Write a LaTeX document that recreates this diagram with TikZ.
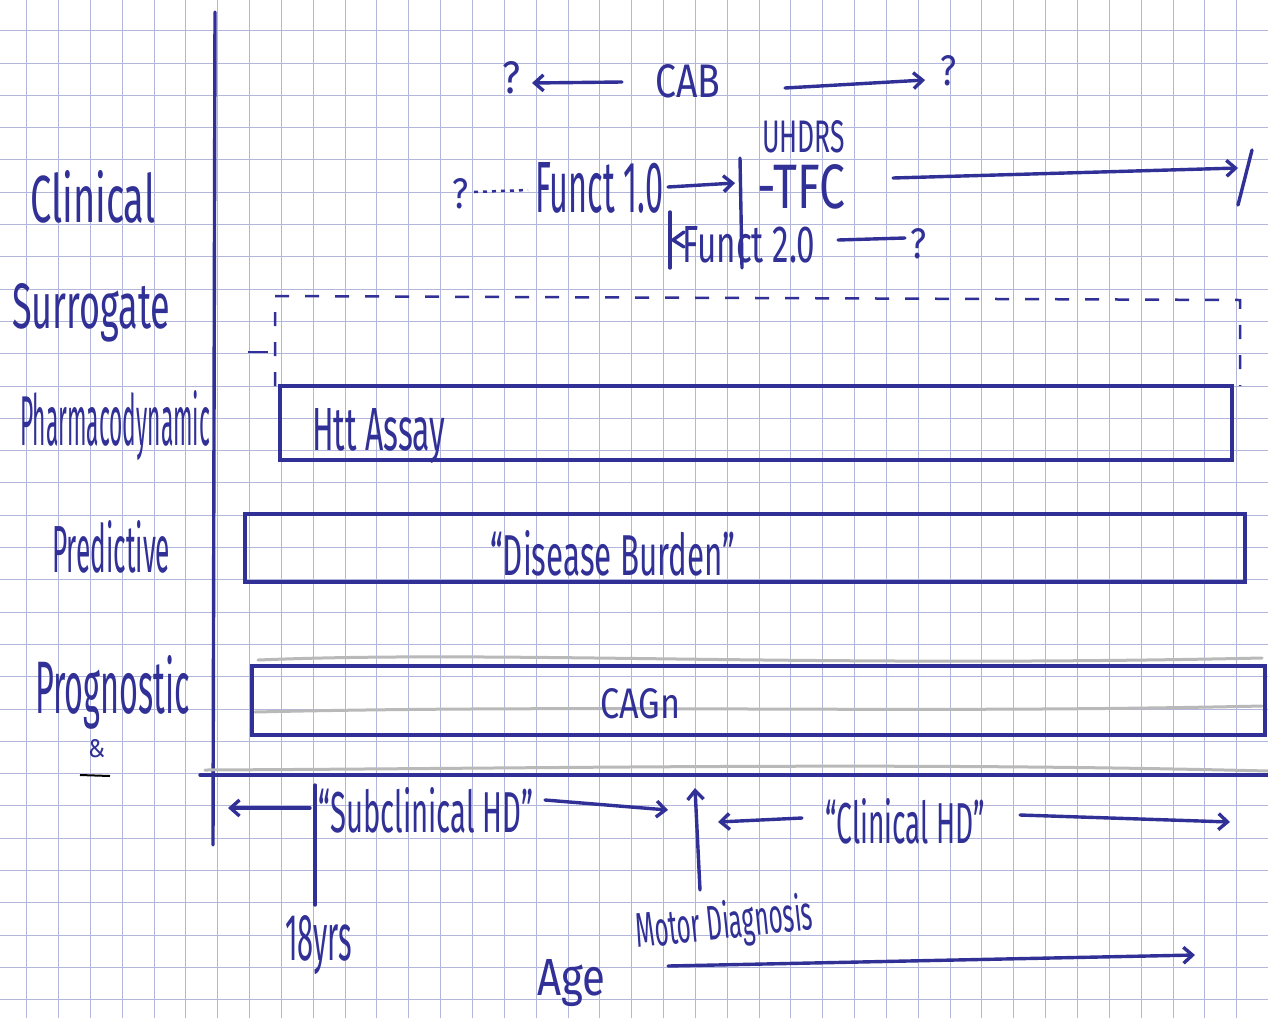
\documentclass[tikz,border=0pt]{standalone}
\usepackage{fontspec}
\usepackage{graphicx}
\newfontfamily\handfont{Fira Sans}
\usetikzlibrary{arrows.meta}
\definecolor{ink}{RGB}{48,48,150}
\definecolor{gridc}{RGB}{178,182,218}
\newcommand\hw[3]{\resizebox{#1pt}{#2pt}{\handfont #3}}
\begin{document}
\begin{tikzpicture}[x=1pt,y=-1pt,
  pen/.style={draw=ink, line width=3.4pt, line cap=round, line join=round},
  tip/.style={-{Straight Barb[length=9pt,width=16pt]}},
  lbl/.style={inner sep=0pt, anchor=base west, text=ink},
  box/.style={draw=ink, line width=3.4pt, inner sep=0pt},
  pencil/.style={draw=gray!55, line width=3pt, line cap=round}]
\useasboundingbox (0,0) rectangle (1268,1018);
\fill[white] (0,0) rectangle (1268,1018);
\foreach \i in {0,...,39} \draw[gridc, line width=0.9pt] ({26.7+31.84*\i},0) -- ({26.7+31.84*\i},1018);
\foreach \j in {0,...,31} \draw[gridc, line width=0.9pt] (0,{30.7+32.3*\j}) -- (1268,{30.7+32.3*\j});

% left labels
\node[lbl] (clinical) at (30,222) {\hw{125}{52}{Clinical}};
\node[lbl] (surrogate) at (12,328) {\hw{158}{45}{Surrogate}};
\node[lbl] (pharma) at (20,445) {\hw{190}{55}{Pharmacodynamic}};
\node[lbl] (predictive) at (52,572) {\hw{118}{52}{Predictive}};
\node[lbl] (prognostic) at (35,713) {\hw{155}{58}{Prognostic}};
\node[lbl] (amp) at (88,757) {\hw{17}{18}{\&}};
\draw[black, line width=2pt] (80,775) -- (110,776);

% axes
\coordinate (vtop) at (215,12);
\coordinate (vbot) at (213,845);
\draw[pen] (vtop) -- (vbot);
\coordinate (hl) at (200,775);
\coordinate (hr) at (1268,775);
\draw[pencil] (205,770) .. controls (600,768) and (900,762) .. (1268,771);
\draw[pen] (hl) -- (hr);

% top: CAB
\node[lbl] (q1) at (502,93) {\hw{18}{32}{?}};
\node[lbl] (cab) at (655,97) {\hw{65}{33}{CAB}};
\node[lbl] (q2) at (940,85) {\hw{16}{30}{?}};
\coordinate (cabL) at (622,82);
\coordinate (cabLe) at (532,83);
\coordinate (cabR) at (785,88);
\coordinate (cabRe) at (925,80);
\draw[pen,tip] (cabL) -- (cabLe);
\draw[pen,tip] (cabR) -- (cabRe);

% UHDRS / TFC / Funct
\node[lbl] (uhdrs) at (762,152) {\hw{83}{32}{UHDRS}};
\node[lbl] (q3) at (452,208) {\hw{16}{30}{?}};
\draw[ink, line width=2.5pt, dash pattern=on 4pt off 5pt] (474,192) -- (528,190);
\node[lbl] (f1) at (535,212) {\hw{128}{50}{Funct 1.0}};
\coordinate (f1a) at (668,187);
\coordinate (f1b) at (735,183);
\draw[pen,tip] (f1a) -- (f1b);
\coordinate (barT) at (740,158);
\coordinate (barB) at (742,268);
\draw[pen] (barT) -- (barB);
\node[lbl] (tfc) at (757,208) {\hw{88}{44}{-TFC}};
\coordinate (tfcA) at (893,178);
\coordinate (tfcB) at (1238,168);
\draw[pen,tip] (tfcA) -- (tfcB);
\draw[pen] (1252,150) -- (1238,205);

\coordinate (bar2T) at (670,212);
\coordinate (bar2B) at (670,268);
\draw[pen] (bar2T) -- (bar2B);
\draw[pen] (684,232) -- (673,240) -- (684,247);
\node[lbl] (f2) at (682,262) {\hw{133}{36}{Funct 2.0}};
\node[lbl] (q4) at (910,258) {\hw{16}{30}{?}};
\coordinate (f2a) at (838,240);
\coordinate (f2b) at (905,238);
\draw[pen] (f2a) -- (f2b);

% surrogate dashed box
\draw[ink, line width=2.5pt, dash pattern=on 14pt off 16pt] (275,386) -- (275,296) -- (1240,300) -- (1240,386);
\draw[ink, line width=2pt] (248,352) -- (268,352);

% bars
\node[box, minimum width=952pt, minimum height=74pt] (htt) at (756,423) {};
\node[lbl] (httlbl) at (312,450) {\hw{133}{42}{Htt Assay}};
\node[box, minimum width=1000pt, minimum height=68pt] (burden) at (745,548) {};
\node[lbl] (burdenlbl) at (490,575) {\hw{245}{45}{“Disease Burden”}};
\draw[pencil] (258,660) .. controls (500,650) and (800,668) .. (1262,658);
\draw[pencil] (255,712) .. controls (600,704) and (900,714) .. (1262,706);
\node[box, minimum width=1013pt, minimum height=69pt] (cag) at (758.5,700.5) {};
\node[lbl] (caglbl) at (600,718) {\hw{80}{30}{CAGn}};

% bottom
\node[lbl] (sub) at (318,832) {\hw{215}{45}{“Subclinical HD”}};
\coordinate (t18T) at (315,785);
\coordinate (t18B) at (315,905);
\draw[pen] (t18T) -- (t18B);
\coordinate (sl1) at (310,808);
\coordinate (sl2) at (228,808);
\draw[pen,tip] (sl1) -- (sl2);
\coordinate (sr1) at (545,800);
\coordinate (sr2) at (668,810);
\draw[pen,tip] (sr1) -- (sr2);
\coordinate (md1) at (700,890);
\coordinate (md2) at (695,788);
\draw[pen,tip] (md1) -- (md2);
\coordinate (cl1) at (802,818);
\coordinate (cl2) at (718,822);
\draw[pen,tip] (cl1) -- (cl2);
\node[lbl] (chd) at (825,843) {\hw{160}{45}{“Clinical HD”}};
\coordinate (cr1) at (1020,815);
\coordinate (cr2) at (1230,822);
\draw[pen,tip] (cr1) -- (cr2);
\node[lbl] (yrs) at (285,960) {\hw{67}{45}{18yrs}};
\node[lbl, rotate=6] (motor) at (637,948) {\hw{178}{38}{Motor Diagnosis}};
\node[lbl] (age) at (537,995) {\hw{68}{36}{Age}};
\coordinate (ag1) at (668,966);
\coordinate (ag2) at (1195,955);
\draw[pen,tip] (ag1) -- (ag2);
\end{tikzpicture}
\end{document}
